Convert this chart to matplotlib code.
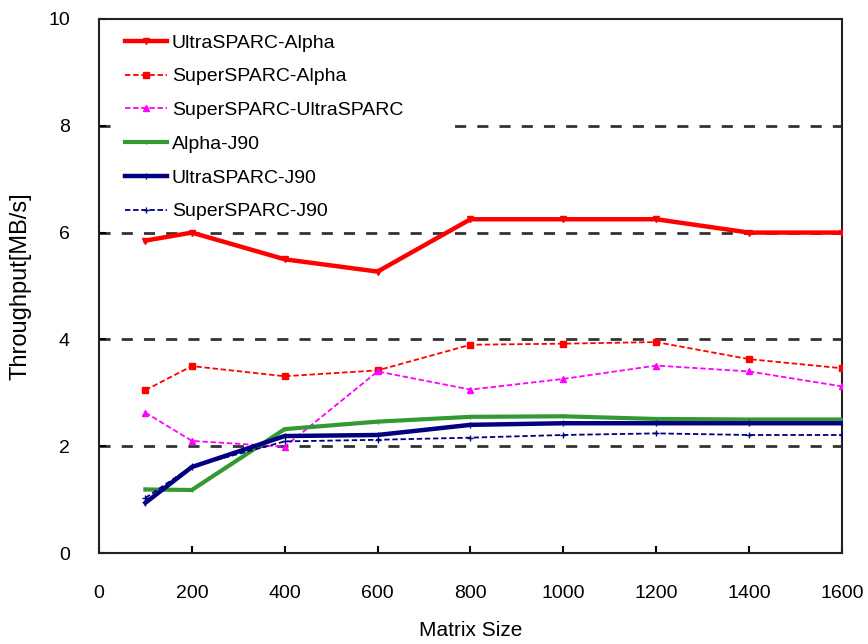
import matplotlib.pyplot as plt
import numpy as np

plt.rcParams["font.family"] = ["Liberation Sans", "DejaVu Sans"]

sizes = [100, 200, 400, 600, 800, 1000, 1200, 1400, 1600]

ultra_alpha = [5.85, 6.0, 5.5, 5.27, 6.25, 6.25, 6.25, 6.0, 6.0]
super_alpha = [3.05, 3.5, 3.31, 3.42, 3.9, 3.92, 3.95, 3.63, 3.46]
super_ultra = [2.63, 2.1, 1.99, 3.4, 3.06, 3.26, 3.51, 3.4, 3.12]
alpha_j90 = [1.19, 1.18, 2.32, 2.46, 2.55, 2.56, 2.51, 2.5, 2.5]
ultra_j90 = [0.94, 1.61, 2.19, 2.21, 2.4, 2.43, 2.43, 2.43, 2.43]
super_j90 = [1.03, 1.62, 2.09, 2.12, 2.16, 2.21, 2.24, 2.21, 2.21]

labels = ["UltraSPARC-Alpha", "SuperSPARC-Alpha", "SuperSPARC-UltraSPARC",
          "Alpha-J90", "UltraSPARC-J90", "SuperSPARC-J90"]

fig = plt.figure(figsize=(8.68, 6.44), dpi=100)
ax = fig.add_axes([0.114, 0.1413, 0.856, 0.8292])

# grid lines (dashed, dark)
for g in [2, 4, 6, 8]:
    ax.axhline(g, color="#333333", lw=2, ls=(0, (4, 4)), zorder=1)

ax.plot(sizes, ultra_alpha, color="#ff0000", lw=3.2, marker="v", ms=4, label=labels[0], zorder=3)
ax.plot(sizes, super_alpha, color="#ff0000", lw=1.3, ls=(0, (3, 1.5)), marker="s", ms=4, label=labels[1], zorder=3)
ax.plot(sizes, super_ultra, color="#ff00ff", lw=1.3, ls=(0, (3, 1.5)), marker="^", ms=5, label=labels[2], zorder=3)
ax.plot(sizes, alpha_j90, color="#339933", lw=3, marker="|", ms=3, label=labels[3], zorder=3)
ax.plot(sizes, ultra_j90, color="#000080", lw=3.2, marker="|", ms=4, label=labels[4], zorder=4)
ax.plot(sizes, super_j90, color="#000080", lw=1.3, ls=(0, (3, 1.5)), marker="+", ms=5, label=labels[5], zorder=4)

ax.set_xlim(0, 1600)
ax.set_ylim(0, 10)
ax.set_xticks(np.arange(0, 1601, 200))
ax.set_yticks(np.arange(0, 11, 2))
ax.tick_params(direction="in", length=5, width=1.5, labelsize=14)
ax.tick_params(axis="x", pad=23)
ax.tick_params(axis="y", pad=21)
for s in ax.spines.values():
    s.set_linewidth(1.5)
    s.set_color("#222222")

ax.set_xlabel("Matrix Size", fontsize=15, labelpad=14)
ax.set_ylabel("Throughput[MB/s]", fontsize=17, labelpad=12)

leg = ax.legend(loc="upper left", bbox_to_anchor=(0.022, 0.990, 0.457, 0.0), mode="expand",
                fontsize=14, frameon=True, facecolor="white", edgecolor="none", framealpha=1,
                handlelength=2.15, handletextpad=0.25, labelspacing=0.83,
                borderpad=0.5, borderaxespad=0.0)
# above the grid lines, below the data lines
leg.set_zorder(2)

fig.savefig("out.png", dpi=100)
